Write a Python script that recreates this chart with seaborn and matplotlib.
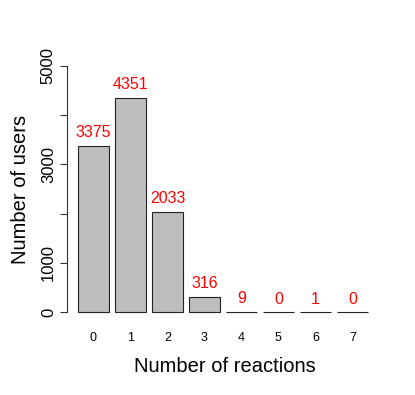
import matplotlib
matplotlib.use("Agg")
import matplotlib.pyplot as plt
import pandas as pd
import seaborn as sns

# Data
reactions = ["0", "1", "2", "3", "4", "5", "6", "7"]
users = [3375, 4351, 2033, 316, 9, 0, 1, 0]
y_ticks = [0, 1000, 2000, 3000, 4000, 5000]
y_tick_labels = ["0", "1000", "", "3000", "", "5000"]

df = pd.DataFrame({"reactions": reactions, "users": users})

sns.set_style("white")
plt.rcParams["font.family"] = ["Liberation Sans", "DejaVu Sans"]
plt.rcParams["text.color"] = "black"
plt.rcParams["axes.labelcolor"] = "black"
plt.rcParams["xtick.color"] = "black"
plt.rcParams["ytick.color"] = "black"

fig = plt.figure(figsize=(4.15, 3.95), dpi=100)
W, H = 415, 395
ax = fig.add_axes([67 / W, 1 - 322 / H, (382 - 67) / W, (322 - 56) / H])

sns.barplot(data=df, x="reactions", y="users", ax=ax, color="#BEBEBE",
            saturation=1, width=0.833, edgecolor="#222222", linewidth=0.8)

for i, v in enumerate(users):
    ax.annotate(str(v), (i, v), xytext=(0, 4), textcoords="offset points",
                ha="center", va="bottom", color="red", fontsize=11.5)

ax.set_xlim(-0.716, 7.8)
ax.set_ylim(-200, 5200)
ax.set_yticks(y_ticks)
ax.set_yticklabels(y_tick_labels, rotation=90, va="center", fontsize=12)
for sp in ["top", "right", "bottom"]:
    ax.spines[sp].set_visible(False)
ax.spines["left"].set_bounds(0, 5000)
ax.spines["left"].set_color("#333333")
ax.spines["left"].set_linewidth(0.8)
ax.tick_params(axis="y", left=True, length=5, width=0.8, color="#333333", pad=3)
ax.tick_params(axis="x", bottom=False, labelsize=9, pad=4)

ax.set_xlabel("Number of reactions", fontsize=14.5, labelpad=9)
ax.set_ylabel("Number of users", fontsize=14.5, labelpad=8)

fig.savefig("out.png", dpi=100)
